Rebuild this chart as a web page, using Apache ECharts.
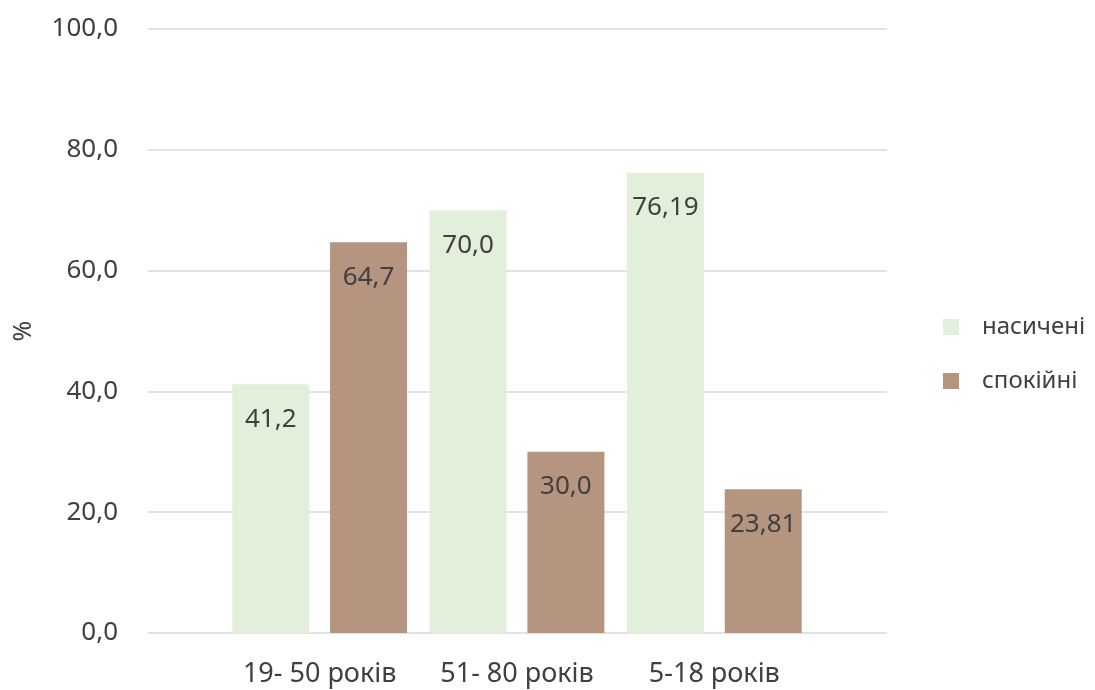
<!DOCTYPE html>
<html>
<head>
<meta charset="utf-8">
<script src="https://cdn.jsdelivr.net/npm/echarts@6/dist/echarts.min.js"></script>
<style>html,body{margin:0;padding:0;background:#fff}#c{width:1095px;height:690px}</style>
</head>
<body>
<div id="c"></div>
<script>
const categories = ['19- 50 років', '51- 80 років', '5-18 років'];
const seriesNames = ['насичені', 'спокійні'];
const saturated = [41.2, 70.0, 76.19];
const calm = [64.7, 30.0, 23.81];
const saturatedLabels = ['41,2', '70,0', '76,19'];
const calmLabels = ['64,7', '30,0', '23,81'];
const yTicks = [0, 20, 40, 60, 80, 100];

const FONT = '"Noto Sans", "Open Sans", sans-serif';
const chart = echarts.init(document.getElementById('c'), null, {renderer: 'canvas'});

function labelCfg(arr) {
  return {
    show: true, position: 'insideTop', distance: 22,
    color: '#404040', fontSize: 26, fontFamily: FONT,
    formatter: p => arr[p.dataIndex]
  };
}

chart.setOption({
  animation: false,
  backgroundColor: '#fff',
  grid: [
    {left: 148, right: 208, top: 29, bottom: 57, containLabel: false},
    {left: 221, right: 282, top: 29, bottom: 57, containLabel: false}
  ],
  legend: {
    orient: 'vertical', left: 938, top: 310,
    itemWidth: 16, itemHeight: 16, itemGap: 30,
    icon: 'rect',
    textStyle: {fontSize: 24, color: '#404040', fontFamily: FONT, padding: [0, 0, 0, 18]},
    data: seriesNames
  },
  xAxis: [
    {type: 'value', gridIndex: 0, show: false, min: 0, max: 1},
    {type: 'category', gridIndex: 1, data: categories,
     axisLine: {show: false}, axisTick: {show: false},
     axisLabel: {interval: 0, hideOverlap: false, fontSize: 27, color: '#404040', fontFamily: FONT, margin: 28}}
  ],
  yAxis: [
    {type: 'value', gridIndex: 0, min: yTicks[0], max: yTicks[yTicks.length - 1], interval: 20,
     name: '%', nameLocation: 'middle', nameGap: 112, nameRotate: 90,
     nameTextStyle: {fontSize: 25, color: '#404040', fontFamily: FONT},
     axisLine: {show: false}, axisTick: {show: false},
     axisLabel: {fontSize: 26, color: '#404040', fontFamily: FONT, margin: 30,
       formatter: v => v.toFixed(1).replace('.', ',')},
     splitLine: {show: true, lineStyle: {color: '#d9d9d9', width: 1.5}}},
    {type: 'value', gridIndex: 1, min: 0, max: 100, show: false, splitLine: {show: false}}
  ],
  series: [
    {name: seriesNames[0], type: 'bar', xAxisIndex: 1, yAxisIndex: 1, data: saturated,
     barWidth: 77, barGap: '27%',
     itemStyle: {color: '#e2efda'}, label: labelCfg(saturatedLabels)},
    {name: seriesNames[1], type: 'bar', xAxisIndex: 1, yAxisIndex: 1, data: calm,
     barWidth: 77, barGap: '27%',
     itemStyle: {color: '#b59480'}, label: labelCfg(calmLabels)}
  ]
});
</script>
</body>
</html>
